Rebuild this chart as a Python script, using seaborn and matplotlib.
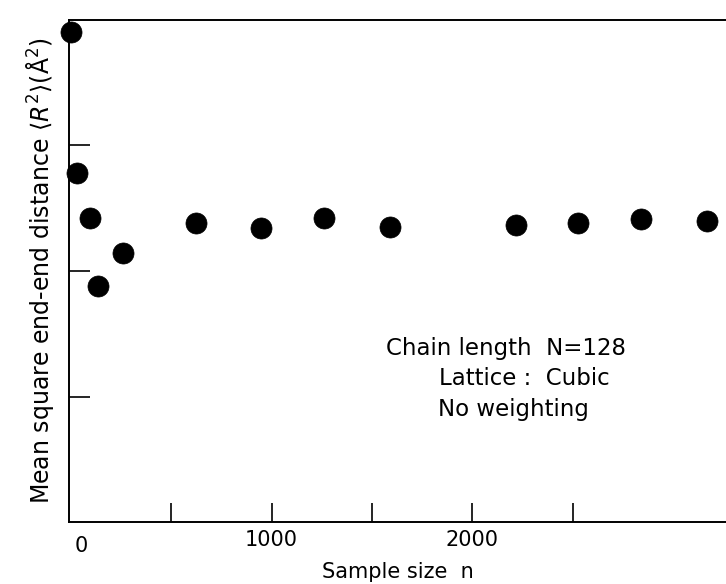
import matplotlib
matplotlib.use("Agg")
import matplotlib.pyplot as plt
import pandas as pd
import seaborn as sns

# datos
sample_size = [0, 30, 95, 135, 260, 625, 945, 1260, 1590, 2220, 2525, 2840, 3170]
r2_mean = [3.90, 2.78, 2.42, 1.88, 2.14, 2.38, 2.34, 2.42, 2.35, 2.37, 2.38, 2.41, 2.40]
x_ticks = [500, 1000, 1500, 2000, 2500]
x_tick_labels = ["", "1000", "", "2000", ""]
y_ticks = [1, 2, 3]
notes = ["Chain length  N=128", "Lattice :  Cubic", "No weighting"]

df = pd.DataFrame({"n": sample_size, "r2": r2_mean})

sns.set_style("ticks")
plt.rcParams["font.family"] = ["DejaVu Sans"]
plt.rcParams.update({"text.color": "black", "axes.labelcolor": "black",
                     "xtick.color": "black", "ytick.color": "black",
                     "axes.edgecolor": "black"})

fig = plt.figure(figsize=(7.26, 5.84), dpi=100)
ax = fig.add_axes([0.095, 0.106, 0.905, 0.86])

sns.scatterplot(data=df, x="n", y="r2", ax=ax, s=230, color="black",
                edgecolor="black", linewidth=0.5, clip_on=False, zorder=5)

ax.set_xlim(-10, 3265)
ax.set_ylim(0, 4)
ax.set_xticks(x_ticks)
ax.set_xticklabels(x_tick_labels, fontsize=15)
ax.set_yticks(y_ticks)
ax.set_yticklabels([])
ax.tick_params(axis="x", direction="in", length=14, width=1.2, pad=6)
ax.tick_params(axis="y", direction="in", length=15, width=1.2)
# etiqueta del cero, algo desplazada como en el original
ax.text(50, -0.11, "0", fontsize=15, ha="center", va="top")

for side in ["left", "top", "bottom"]:
    ax.spines[side].set_linewidth(1.4)
ax.spines["right"].set_visible(False)

ax.set_xlabel("Sample size  n", fontsize=15, labelpad=8)
ax.set_ylabel(r"Mean square end-end distance $\langle R^2\rangle$(Å$^2$)",
              fontsize=17, labelpad=6)

ax.text(1570, 1.38, notes[0], fontsize=16.5, va="center")
ax.text(1835, 1.14, notes[1], fontsize=16.5, va="center")
ax.text(1830, 0.90, notes[2], fontsize=16.5, va="center")

fig.savefig("out.png", dpi=100)
